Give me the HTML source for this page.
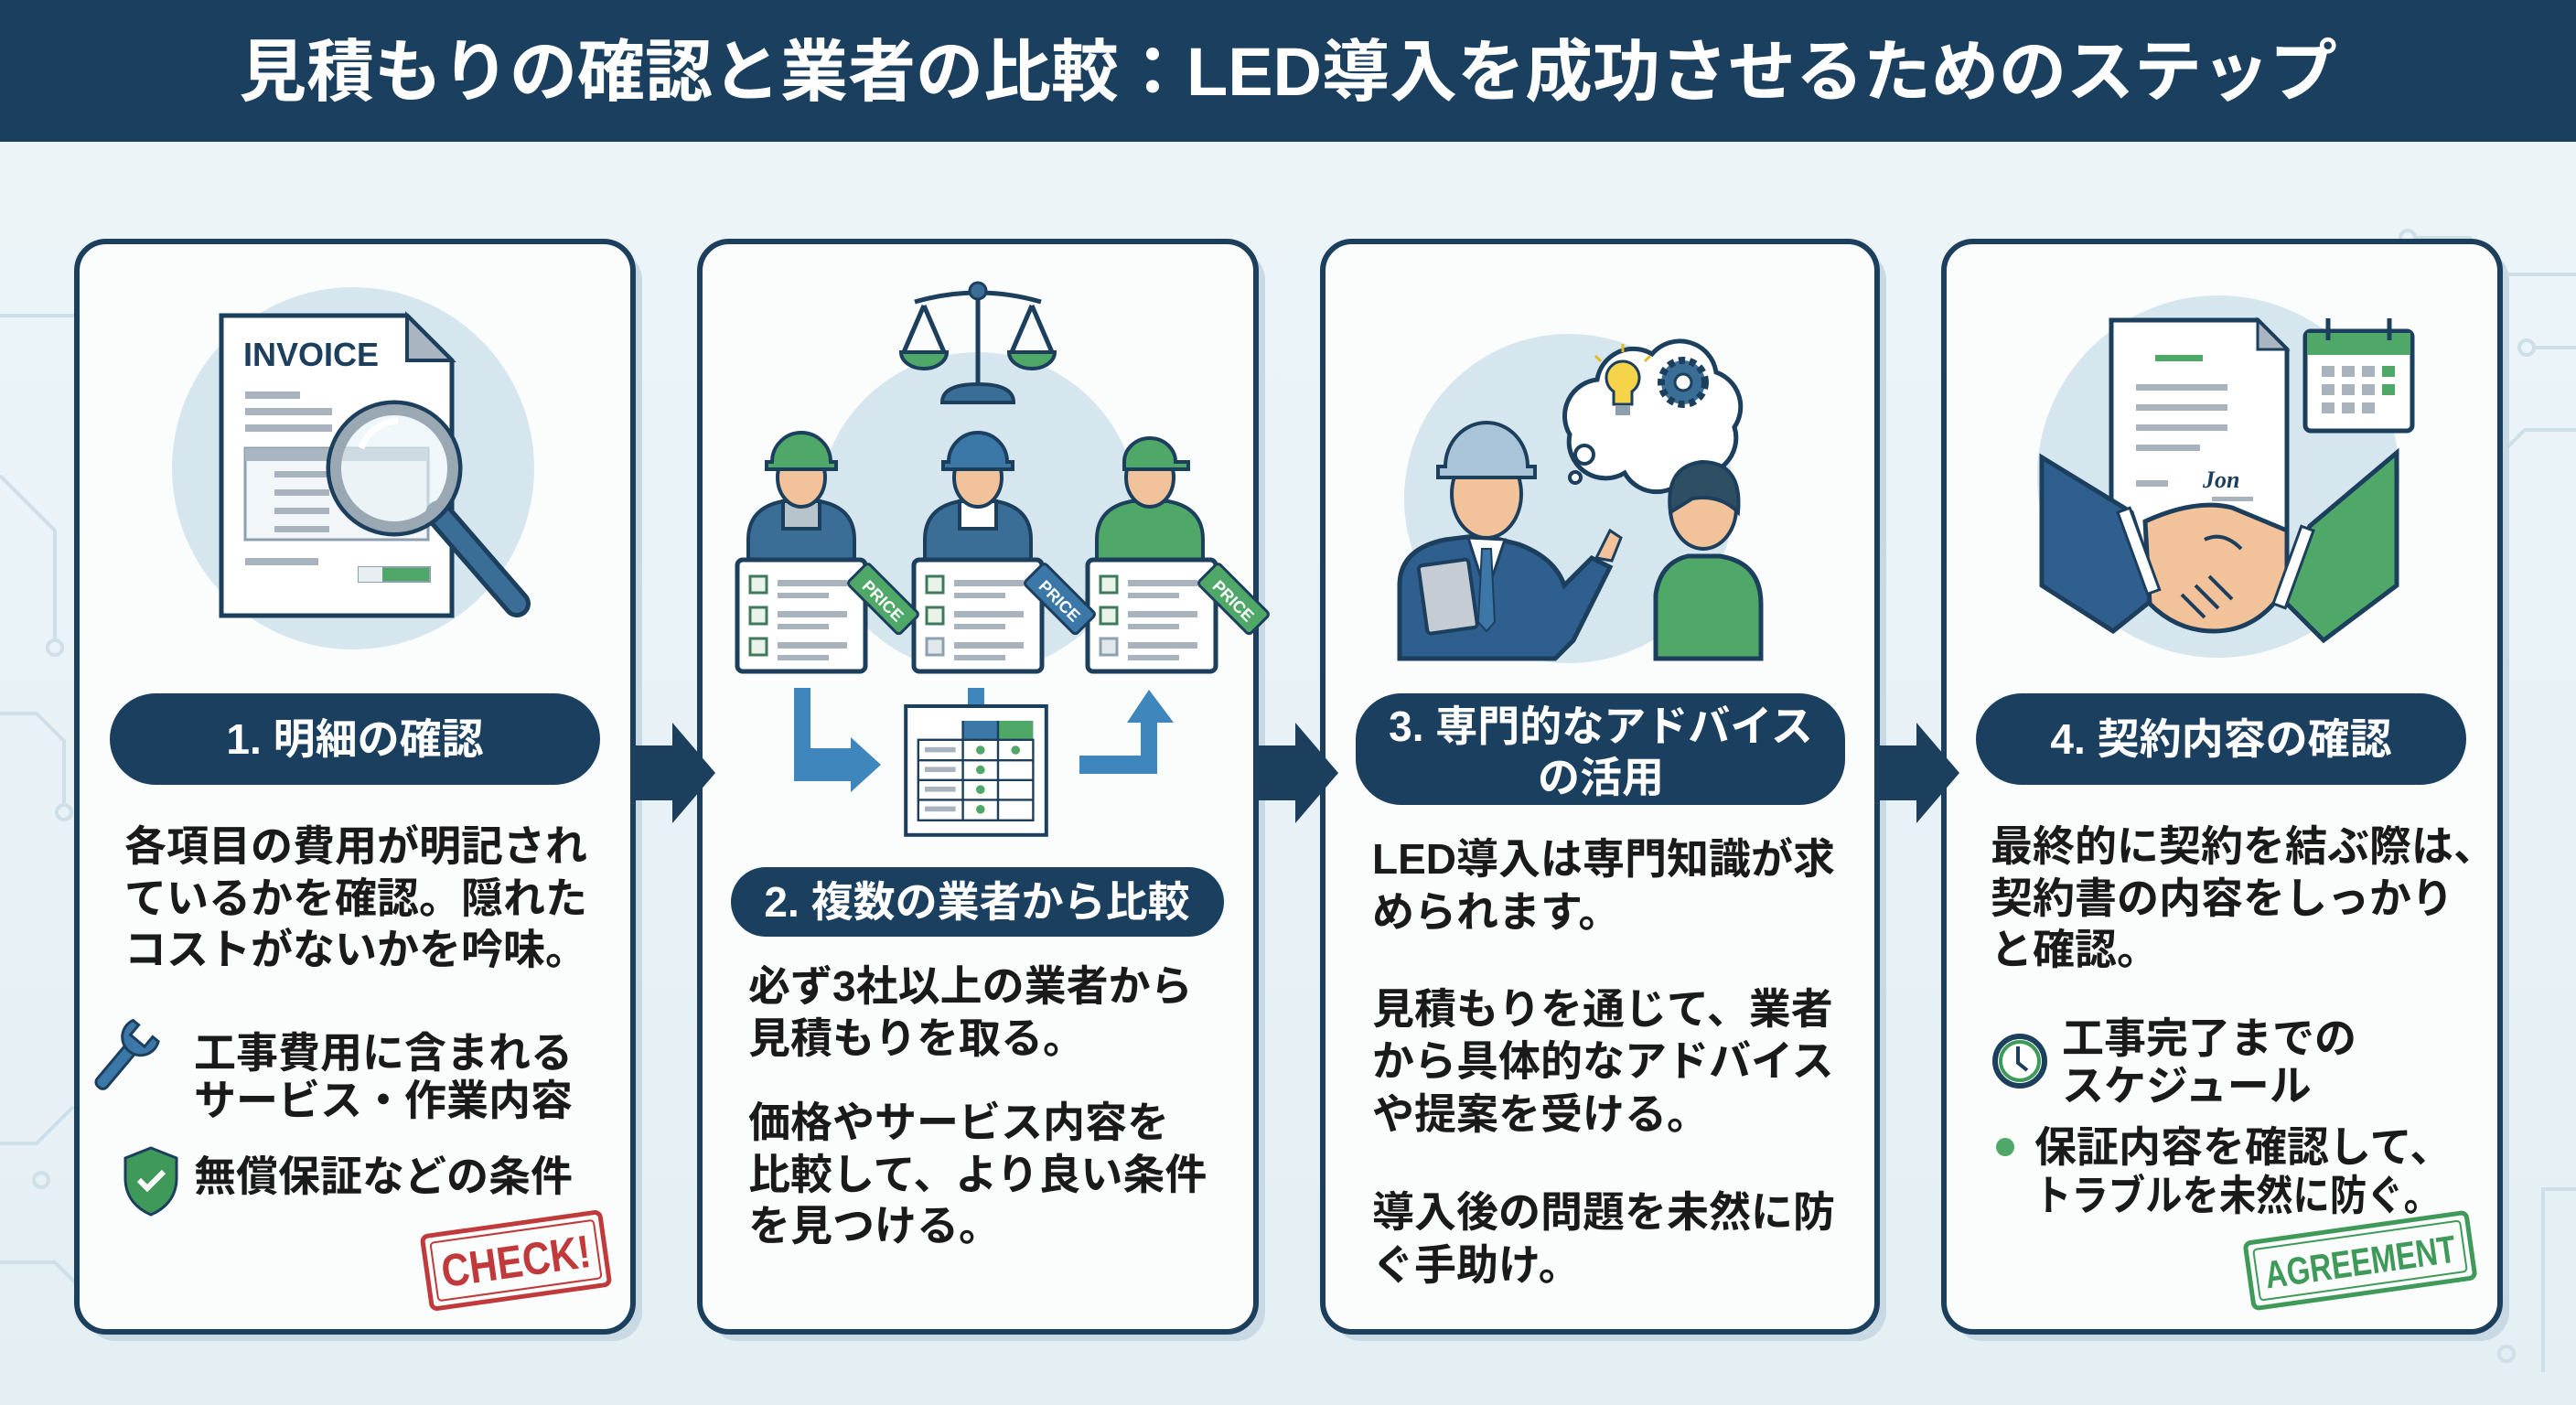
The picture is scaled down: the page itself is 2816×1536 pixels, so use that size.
<!DOCTYPE html>
<html><head><meta charset="utf-8">
<style>
html,body{margin:0;padding:0;}
body{width:2816px;height:1536px;overflow:hidden;background:#eaf3f7;}
svg{display:block;}
text{font-family:"Liberation Sans","Noto Sans CJK JP",sans-serif;font-weight:bold;}
</style></head>
<body>
<svg width="2816" height="1536" viewBox="0 0 2816 1536" xmlns="http://www.w3.org/2000/svg">
<defs>
<linearGradient id="bg" x1="0" y1="0" x2="0" y2="1"><stop offset="0" stop-color="#edf5f9"/><stop offset="1" stop-color="#e4eff4"/></linearGradient>
</defs>
<rect width="2816" height="1536" fill="url(#bg)"/>
<g stroke="#cfdfe7" stroke-width="4" fill="none">
<path d="M0 345 H90 L170 420 H300"/><circle cx="308" cy="420" r="8"/>
<path d="M120 290 L200 370 H350"/><circle cx="358" cy="370" r="8"/>
<path d="M0 520 L60 580 V700"/><circle cx="60" cy="708" r="8"/>
<path d="M0 780 H40 L70 810 V880"/><circle cx="70" cy="888" r="8"/>
<path d="M0 1250 H40 L80 1210"/><circle cx="45" cy="1290" r="8"/>
<path d="M0 1380 H60 L100 1420 H340"/><circle cx="348" cy="1420" r="8"/>
<path d="M2816 300 H2740 L2700 260 H2640"/><circle cx="2632" cy="260" r="8"/>
<path d="M2816 380 H2770"/><circle cx="2762" cy="380" r="8"/>
<path d="M2816 470 H2760 L2740 490"/>
<path d="M2816 1300 H2780 V1500"/><circle cx="2740" cy="1480" r="8"/>
</g>
<rect width="2816" height="155" fill="#1b3f5f"/>
<text x="1408" y="104" font-size="74" fill="#fff" text-anchor="middle">見積もりの確認と業者の比較：LED導入を成功させるためのステップ</text>

<g fill="#c9d9e3">
<rect x="94" y="274" width="608" height="1192" rx="32"/>
<rect x="775" y="274" width="608" height="1192" rx="32"/>
<rect x="1456" y="274" width="606" height="1192" rx="32"/>
<rect x="2135" y="274" width="608" height="1192" rx="32"/>
</g>
<g fill="#fbfcfc" stroke="#1d3f5e" stroke-width="6">
<rect x="84" y="264" width="608" height="1192" rx="32"/>
<rect x="765" y="264" width="608" height="1192" rx="32"/>
<rect x="1446" y="264" width="606" height="1192" rx="32"/>
<rect x="2125" y="264" width="608" height="1192" rx="32"/>
</g>
<g fill="#1d3f5e">
<path d="M692 815 H735 V790 L782 845 L735 900 V875 H692Z"/>
<path d="M1373 815 H1416 V790 L1463 845 L1416 900 V875 H1373Z"/>
<path d="M2052 815 H2095 V790 L2142 845 L2095 900 V875 H2052Z"/>
</g>

<g fill="#1b3f5f">
<rect x="120" y="758" width="536" height="100" rx="50"/>
<rect x="799" y="948" width="539" height="76" rx="38"/>
<rect x="1482" y="758" width="535" height="122" rx="50"/>
<rect x="2160" y="758" width="536" height="100" rx="50"/>
</g>
<g fill="#fff" font-size="46" text-anchor="middle">
<text x="388" y="824">1. 明細の確認</text>
<text x="1068" y="1002">2. 複数の業者から比較</text>
<text x="1750" y="810">3. 専門的なアドバイス</text>
<text x="1750" y="866">の活用</text>
<text x="2428" y="824">4. 契約内容の確認</text>
</g>

<g fill="#1a1a1a" font-size="46">
<text x="136" y="941">各項目の費用が明記され</text>
<text x="136" y="998">ているかを確認。隠れた</text>
<text x="136" y="1054">コストがないかを吟味。</text>
<text x="212" y="1167">工事費用に含まれる</text>
<text x="212" y="1219">サービス・作業内容</text>
<text x="212" y="1302">無償保証などの条件</text>

<text x="818" y="1094">必ず3社以上の業者から</text>
<text x="818" y="1151">見積もりを取る。</text>
<text x="818" y="1243">価格やサービス内容を</text>
<text x="818" y="1300">比較して、より良い条件</text>
<text x="818" y="1356">を見つける。</text>

<text x="1500" y="955">LED導入は専門知識が求</text>
<text x="1500" y="1013">められます。</text>
<text x="1500" y="1119">見積もりを通じて、業者</text>
<text x="1500" y="1176">から具体的なアドバイス</text>
<text x="1500" y="1234">や提案を受ける。</text>
<text x="1500" y="1341">導入後の問題を未然に防</text>
<text x="1500" y="1399">ぐ手助け。</text>

<text x="2176" y="941">最終的に契約を結ぶ際は、</text>
<text x="2176" y="998">契約書の内容をしっかり</text>
<text x="2176" y="1054">と確認。</text>
<text x="2254" y="1151">工事完了までの</text>
<text x="2254" y="1203">スケジュール</text>
<text x="2224" y="1270">保証内容を確認して、</text>
<text x="2224" y="1323" textLength="444" lengthAdjust="spacingAndGlyphs">トラブルを未然に防ぐ。</text>
</g>

<g transform="translate(140,1150) rotate(40)">
<rect x="-7" y="-10" width="14" height="60" rx="6" fill="#3b78a8" stroke="#1d3f5e" stroke-width="3"/>
<path d="M-18 -30 a20 20 0 1 0 36 0 l-8 0 v14 h-20 v-14z" fill="#3b78a8" stroke="#1d3f5e" stroke-width="3"/>
</g>
<path d="M165 1255 l28 11 v22 c0 22 -14 34 -28 40 c-14 -6 -28 -18 -28 -40 v-22z" fill="#3f9a5a" stroke="#1d3f5e" stroke-width="3"/>
<path d="M152 1290 l9 9 l18 -18" stroke="#fff" stroke-width="6" fill="none"/>
<circle cx="2208" cy="1160" r="27" fill="#fff" stroke="#1d3f5e" stroke-width="6"/>
<circle cx="2208" cy="1160" r="21" fill="none" stroke="#3f9a5a" stroke-width="4"/>
<path d="M2206 1144 v18 l10 8" stroke="#1d3f5e" stroke-width="4" fill="none"/>
<circle cx="2192" cy="1254" r="10" fill="#4fa868"/>

<g transform="translate(564,1378) rotate(-8)">
<rect x="-98" y="-40" width="196" height="80" rx="6" fill="none" stroke="#c0393b" stroke-width="5"/>
<rect x="-90" y="-32" width="180" height="64" rx="4" fill="none" stroke="#c0393b" stroke-width="2"/>
<text x="0" y="18" font-size="50" fill="#c0393b" text-anchor="middle" textLength="164" lengthAdjust="spacingAndGlyphs">CHECK!</text>
</g>
<g transform="translate(2580,1378) rotate(-8)">
<rect x="-122" y="-36" width="244" height="72" rx="6" fill="none" stroke="#3f9a5a" stroke-width="5"/>
<rect x="-114" y="-28" width="228" height="56" rx="4" fill="none" stroke="#3f9a5a" stroke-width="2"/>
<text x="0" y="16" font-size="42" fill="#3f9a5a" text-anchor="middle" textLength="210" lengthAdjust="spacingAndGlyphs">AGREEMENT</text>
</g>

<!-- Card1 illustration -->
<circle cx="386" cy="512" r="198" fill="#d5e6ef"/>
<path d="M242 345 H445 L494 394 V673 H242Z" fill="#fff" stroke="#1d3f5e" stroke-width="5"/>
<path d="M445 345 V394 H494Z" fill="#a9b6c2" stroke="#1d3f5e" stroke-width="4"/>
<text x="266" y="400" font-size="36" fill="#1d3f5e">INVOICE</text>
<g fill="#a9b3bd"><rect x="268" y="428" width="60" height="8"/><rect x="268" y="446" width="95" height="8"/><rect x="268" y="464" width="95" height="8"/><rect x="268" y="610" width="80" height="8"/></g>
<rect x="268" y="490" width="200" height="100" fill="#f3f6f8" stroke="#8da0b0" stroke-width="3"/>
<rect x="268" y="490" width="200" height="14" fill="#a9b6c2"/>
<g fill="#a9b3bd"><rect x="300" y="515" width="60" height="7"/><rect x="300" y="535" width="60" height="7"/><rect x="300" y="555" width="60" height="7"/><rect x="300" y="575" width="60" height="7"/></g>
<rect x="392" y="620" width="78" height="16" fill="#4fa868" stroke="#8da0b0" stroke-width="2"/>
<rect x="392" y="620" width="26" height="16" fill="#e8eef2"/>
<line x1="480" y1="562" x2="565" y2="660" stroke="#1d3f5e" stroke-width="30" stroke-linecap="round"/>
<line x1="480" y1="562" x2="565" y2="660" stroke="#3b6e96" stroke-width="20" stroke-linecap="round"/>
<circle cx="431" cy="512" r="72" fill="#e6f1f7" fill-opacity="0.6" stroke="#1d3f5e" stroke-width="5"/>
<circle cx="431" cy="512" r="64" fill="none" stroke="#9aa8b4" stroke-width="12"/>
<path d="M395 490 a45 45 0 0 1 40 -30" stroke="#fff" stroke-width="7" fill="none"/>

<!-- Card2 illustration -->
<circle cx="1069" cy="560" r="175" fill="#d5e6ef"/>
<g stroke="#1d3f5e" stroke-width="5" fill="none">
<line x1="1069" y1="318" x2="1069" y2="430"/><path d="M1000 330 Q1069 310 1138 330"/>
<path d="M1010 334 L988 385 M1010 334 L1032 385 M1128 334 L1106 385 M1128 334 L1150 385"/>
</g>
<path d="M985 385 H1035 a25 18 0 0 1 -50 0Z" fill="#4fa868" stroke="#1d3f5e" stroke-width="4"/>
<path d="M1103 385 H1153 a25 18 0 0 1 -50 0Z" fill="#4fa868" stroke="#1d3f5e" stroke-width="4"/>
<circle cx="1069" cy="318" r="9" fill="#3b6e96" stroke="#1d3f5e" stroke-width="3"/>
<path d="M1030 440 Q1030 420 1069 420 Q1108 420 1108 440Z" fill="#3b6e96" stroke="#1d3f5e" stroke-width="4"/>
<g stroke="#1d3f5e" stroke-width="4">
<g transform="translate(876,0)">
<path d="M-58 660 V590 Q-58 555 -20 548 H20 Q58 555 58 590 V660Z" fill="#3b6e96"/>
<rect x="-20" y="548" width="40" height="30" fill="#b8c4cc"/>
<ellipse cx="0" cy="522" rx="26" ry="32" fill="#f2c29b"/>
<path d="M-32 505 a32 32 0 0 1 64 0 h6 v8 h-76 v-8z" fill="#4fa868"/>
</g>
<g transform="translate(1069,0)">
<path d="M-58 660 V590 Q-58 555 -20 548 H20 Q58 555 58 590 V660Z" fill="#3b6e96"/>
<rect x="-20" y="548" width="40" height="30" fill="#fff"/>
<ellipse cx="0" cy="522" rx="26" ry="32" fill="#f2c29b"/>
<path d="M-32 505 a32 32 0 0 1 64 0 h6 v8 h-76 v-8z" fill="#3b78a8"/>
</g>
<g transform="translate(1257,0)">
<path d="M-58 660 V590 Q-58 555 -20 548 H20 Q58 555 58 590 V660Z" fill="#4fa868"/>
<ellipse cx="0" cy="522" rx="26" ry="32" fill="#f2c29b"/>
<path d="M-28 505 a28 26 0 0 1 56 0 h14 v8 h-70z" fill="#4fa868"/>
</g>
</g>
<g>
<g transform="translate(806,612)"><rect width="140" height="122" rx="6" fill="#fff" stroke="#1d3f5e" stroke-width="5"/>
<g fill="#eaf3ea" stroke="#3f7a5a" stroke-width="3"><rect x="14" y="18" width="18" height="18"/><rect x="14" y="52" width="18" height="18"/><rect x="14" y="86" width="18" height="18"/></g>
<g fill="#a9b3bd"><rect x="44" y="22" width="76" height="7"/><rect x="44" y="56" width="76" height="7"/><rect x="44" y="90" width="76" height="7"/><rect x="44" y="36" width="56" height="6"/><rect x="44" y="70" width="56" height="6"/><rect x="44" y="104" width="56" height="6"/></g></g>
<g transform="translate(999,612)"><rect width="140" height="122" rx="6" fill="#fff" stroke="#1d3f5e" stroke-width="5"/>
<g fill="#eaf3ea" stroke="#3f7a5a" stroke-width="3"><rect x="14" y="18" width="18" height="18"/><rect x="14" y="52" width="18" height="18"/><rect x="14" y="86" width="18" height="18" fill="#e1e8ec" stroke="#8da0b0"/></g>
<g fill="#a9b3bd"><rect x="44" y="22" width="76" height="7"/><rect x="44" y="56" width="76" height="7"/><rect x="44" y="90" width="76" height="7"/><rect x="44" y="36" width="56" height="6"/><rect x="44" y="70" width="56" height="6"/><rect x="44" y="104" width="56" height="6"/></g></g>
<g transform="translate(1189,612)"><rect width="140" height="122" rx="6" fill="#fff" stroke="#1d3f5e" stroke-width="5"/>
<g fill="#eaf3ea" stroke="#3f7a5a" stroke-width="3"><rect x="14" y="18" width="18" height="18"/><rect x="14" y="52" width="18" height="18"/><rect x="14" y="86" width="18" height="18" fill="#e1e8ec" stroke="#8da0b0"/></g>
<g fill="#a9b3bd"><rect x="44" y="22" width="76" height="7"/><rect x="44" y="56" width="76" height="7"/><rect x="44" y="90" width="76" height="7"/><rect x="44" y="36" width="56" height="6"/><rect x="44" y="70" width="56" height="6"/><rect x="44" y="104" width="56" height="6"/></g></g>
</g>
<g font-size="18" fill="#fff">
<g transform="translate(940,632) rotate(45)"><rect x="-6" y="-18" width="80" height="32" rx="4" fill="#4fa868" stroke="#1d3f5e" stroke-width="3"/><text x="8" y="6">PRICE</text></g>
<g transform="translate(1133,632) rotate(45)"><rect x="-6" y="-18" width="80" height="32" rx="4" fill="#3b78a8" stroke="#1d3f5e" stroke-width="3"/><text x="8" y="6">PRICE</text></g>
<g transform="translate(1323,632) rotate(45)"><rect x="-6" y="-18" width="80" height="32" rx="4" fill="#4fa868" stroke="#1d3f5e" stroke-width="3"/><text x="8" y="6">PRICE</text></g>
</g>
<g fill="#3f86bd">
<path d="M868 752 H886 V818 H930 V806 L963 836 L930 866 V854 H868Z"/>
<rect x="1058" y="752" width="18" height="22"/>
<path d="M1180 826 H1247 V790 H1232 L1256 754 L1283 790 H1265 V846 H1180Z"/>
</g>
<g transform="translate(213.4,139.2) scale(0.8)">
<rect x="971" y="791" width="192" height="176" fill="#fff" stroke="#1d3f5e" stroke-width="5"/>
<rect x="1049" y="811" width="48" height="26" fill="#3b78a8"/><rect x="1097" y="811" width="48" height="26" fill="#4fa868"/>
<g fill="none" stroke="#1d3f5e" stroke-width="3">
<rect x="988" y="837" width="157" height="110"/><line x1="1049" y1="811" x2="1049" y2="947"/><line x1="1097" y1="811" x2="1097" y2="947"/>
<line x1="988" y1="865" x2="1145" y2="865"/><line x1="988" y1="892" x2="1145" y2="892"/><line x1="988" y1="919" x2="1145" y2="919"/>
</g>
<g fill="#a9b3bd"><rect x="997" y="847" width="42" height="7"/><rect x="997" y="874" width="42" height="7"/><rect x="997" y="901" width="42" height="7"/><rect x="997" y="928" width="42" height="7"/></g>
<g fill="#4fa868"><circle cx="1073" cy="851" r="6"/><circle cx="1073" cy="878" r="6"/><circle cx="1073" cy="905" r="6"/><circle cx="1073" cy="932" r="6"/><circle cx="1121" cy="851" r="6"/></g>
</g>

<!-- Card3 illustration -->
<circle cx="1715" cy="545" r="180" fill="#d5e6ef"/>
<path d="M1716 475 a40 40 0 0 1 30 -60 a40 40 0 0 1 60 -28 a40 40 0 0 1 70 20 a40 40 0 0 1 20 60 a40 40 0 0 1 -50 50 a40 40 0 0 1 -70 0 a40 40 0 0 1 -60 -42z" fill="#fff" stroke="#1d3f5e" stroke-width="5"/>
<circle cx="1732" cy="497" r="10" fill="#fff" stroke="#1d3f5e" stroke-width="4"/>
<circle cx="1722" cy="522" r="6" fill="#fff" stroke="#1d3f5e" stroke-width="4"/>
<path d="M1764 428 a18 18 0 1 1 20 0 v14 h-20z" fill="#f5d44a" stroke="#1d3f5e" stroke-width="3"/>
<rect x="1766" y="444" width="16" height="10" fill="#8da0b0"/>
<g stroke="#e6b820" stroke-width="3"><line x1="1774" y1="385" x2="1774" y2="376"/><line x1="1750" y1="395" x2="1744" y2="389"/><line x1="1798" y1="395" x2="1804" y2="389"/></g>
<circle cx="1840" cy="418" r="24" fill="#3b6e96" stroke="#1d3f5e" stroke-width="8" stroke-dasharray="7 5"/>
<circle cx="1840" cy="418" r="9" fill="#fff" stroke="#1d3f5e" stroke-width="3"/>
<path d="M1530 720 V640 Q1530 600 1580 590 L1620 585 L1660 595 Q1700 610 1710 640 L1740 610 L1760 620 L1720 700 L1700 720Z" fill="#2f5f8f" stroke="#1d3f5e" stroke-width="5"/>
<path d="M1605 588 L1625 650 L1645 590Z" fill="#fff" stroke="#1d3f5e" stroke-width="3"/>
<path d="M1620 600 L1630 600 L1634 680 L1625 690 L1616 680Z" fill="#3b78a8" stroke="#1d3f5e" stroke-width="2"/>
<ellipse cx="1625" cy="540" rx="38" ry="48" fill="#f2c29b" stroke="#1d3f5e" stroke-width="4"/>
<path d="M1580 510 a45 48 0 0 1 90 0 h8 v12 h-106 v-12z" fill="#a9c4d8" stroke="#1d3f5e" stroke-width="4"/>
<rect x="1555" y="615" width="55" height="75" rx="4" fill="#c6ccd4" stroke="#1d3f5e" stroke-width="4" transform="rotate(-8 1580 650)"/>
<path d="M1745 610 l15 -30 l12 8 l-10 25z" fill="#f2c29b" stroke="#1d3f5e" stroke-width="3"/>
<path d="M1810 720 V650 Q1815 615 1845 608 H1880 Q1925 615 1925 660 V720Z" fill="#4fa868" stroke="#1d3f5e" stroke-width="5"/>
<ellipse cx="1862" cy="555" rx="36" ry="45" fill="#f2c29b" stroke="#1d3f5e" stroke-width="4"/>
<path d="M1826 560 Q1820 510 1860 505 Q1905 505 1900 560 Q1880 540 1850 545Z" fill="#2e4f63" stroke="#1d3f5e" stroke-width="4"/>

<!-- Card4 illustration -->
<circle cx="2425" cy="521" r="198" fill="#d5e6ef"/>
<path d="M2308 350 H2468 L2500 382 V611 H2308Z" fill="#fff" stroke="#1d3f5e" stroke-width="5"/>
<path d="M2468 350 V382 H2500Z" fill="#a9b6c2" stroke="#1d3f5e" stroke-width="3"/>
<rect x="2356" y="388" width="52" height="7" fill="#4fa868"/>
<g fill="#a9b3bd"><rect x="2335" y="420" width="100" height="7"/><rect x="2335" y="442" width="100" height="7"/><rect x="2335" y="464" width="100" height="7"/><rect x="2335" y="486" width="70" height="7"/><rect x="2335" y="525" width="35" height="7"/><rect x="2418" y="543" width="45" height="5"/></g>
<text x="2408" y="533" font-size="26" fill="#1d3f5e" font-style="italic" font-weight="normal" style="font-family:'Liberation Serif',serif">Jon</text>
<rect x="2520" y="362" width="117" height="109" rx="6" fill="#fff" stroke="#1d3f5e" stroke-width="5"/>
<rect x="2522" y="364" width="113" height="24" fill="#4fa868"/>
<g stroke="#1d3f5e" stroke-width="5"><line x1="2545" y1="348" x2="2545" y2="372"/><line x1="2612" y1="348" x2="2612" y2="372"/></g>
<g fill="#a9b3bd"><rect x="2538" y="400" width="14" height="12"/><rect x="2560" y="400" width="14" height="12"/><rect x="2538" y="420" width="14" height="12"/><rect x="2560" y="420" width="14" height="12"/><rect x="2538" y="440" width="14" height="12"/><rect x="2560" y="440" width="14" height="12"/><rect x="2582" y="420" width="14" height="12"/><rect x="2582" y="400" width="14" height="12"/><rect x="2582" y="440" width="14" height="12"/></g>
<g fill="#4fa868"><rect x="2604" y="400" width="14" height="12"/><rect x="2604" y="420" width="14" height="12"/></g>
<path d="M2232 500 L2330 560 L2360 650 L2310 690 L2232 640Z" fill="#2f5f8f" stroke="#1d3f5e" stroke-width="5"/>
<path d="M2620 495 L2525 575 L2490 650 L2540 700 L2620 640Z" fill="#4fa868" stroke="#1d3f5e" stroke-width="5"/>
<path d="M2345 570 Q2400 545 2440 555 L2500 580 L2500 640 Q2470 690 2420 690 Q2380 690 2350 660Z" fill="#f2c29b" stroke="#1d3f5e" stroke-width="5"/>
<g stroke="#1d3f5e" stroke-width="4" fill="none"><path d="M2385 650 l25 25 M2400 640 l25 25 M2415 630 l25 25 M2410 590 q20 -10 40 10"/></g>
<g fill="#fff" stroke="#1d3f5e" stroke-width="3"><rect x="2330" y="555" width="14" height="95" transform="rotate(-20 2337 600)"/><rect x="2500" y="575" width="14" height="90" transform="rotate(20 2507 620)"/></g>
</svg>
</body></html>
